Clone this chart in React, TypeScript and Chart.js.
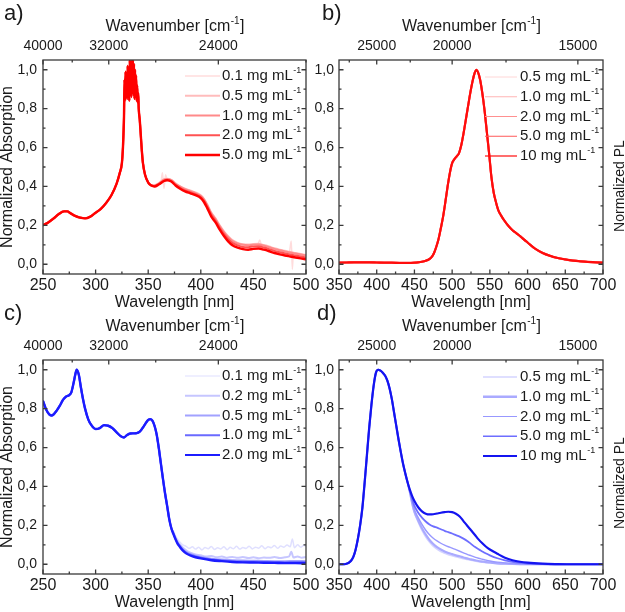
import React, { useEffect, useRef } from 'react';
import { Chart, registerables } from 'chart.js';

Chart.register(...registerables);

const FONT = "'Liberation Sans', Arial, Helvetica, sans-serif";
Chart.defaults.font.family = FONT;
Chart.defaults.color = '#1a1a1a';

// ---------------- Panel a: absorption (red) ----------------
const absA_xHead = [250, 255, 260, 265, 270, 273, 276, 280, 285, 290, 295, 300, 305, 310, 315, 320, 323, 325, 326, 326.5, 327, 327.5, 328, 328.5, 329, 329.5, 330, 330.5, 331, 331.5, 332, 332.5, 333, 333.5, 334, 334.5, 335, 335.5, 336, 336.5, 337, 337.5, 338, 338.5, 339, 339.5, 340, 340.5, 341, 342, 343, 344, 345, 347, 350, 353];
const absA_head = [0.200, 0.215, 0.235, 0.258, 0.272, 0.272, 0.263, 0.250, 0.240, 0.236, 0.245, 0.265, 0.285, 0.315, 0.355, 0.415, 0.47, 0.52, 0.60, 0.67, 0.76, 0.95, 0.84, 0.99, 0.87, 0.97, 0.85, 1.02, 0.88, 0.98, 0.84, 1.05, 0.90, 1.04, 0.86, 1.05, 0.93, 1.05, 0.87, 1.03, 0.85, 1.00, 0.88, 0.97, 0.84, 0.92, 0.83, 0.88, 0.80, 0.74, 0.66, 0.58, 0.52, 0.46, 0.42, 0.405];
const absA_xTail = [356, 360, 365, 368, 372, 376, 380, 385, 390, 395, 400, 403, 406, 410, 414, 418, 422, 426, 430, 435, 440, 445, 450, 455, 460, 465, 470, 475, 480, 485, 490, 495, 500];
const absA_tail50 = [0.400, 0.410, 0.428, 0.432, 0.425, 0.405, 0.390, 0.375, 0.365, 0.355, 0.340, 0.320, 0.290, 0.245, 0.215, 0.178, 0.145, 0.118, 0.098, 0.085, 0.078, 0.075, 0.079, 0.081, 0.075, 0.067, 0.058, 0.051, 0.045, 0.040, 0.035, 0.030, 0.025];
const absA_tail20 = [0.401, 0.412, 0.430, 0.434, 0.428, 0.409, 0.394, 0.380, 0.370, 0.360, 0.346, 0.327, 0.298, 0.254, 0.224, 0.188, 0.156, 0.130, 0.110, 0.097, 0.089, 0.088, 0.091, 0.092, 0.086, 0.078, 0.069, 0.062, 0.056, 0.050, 0.045, 0.040, 0.035];
const absA_tail10 = [0.405, 0.415, 0.435, 0.438, 0.432, 0.414, 0.400, 0.386, 0.376, 0.366, 0.352, 0.334, 0.306, 0.262, 0.232, 0.196, 0.165, 0.140, 0.120, 0.107, 0.100, 0.098, 0.101, 0.102, 0.096, 0.088, 0.079, 0.072, 0.066, 0.060, 0.055, 0.050, 0.045];
const absA_tail05 = [0.406, 0.417, 0.437, 0.440, 0.434, 0.416, 0.402, 0.389, 0.379, 0.369, 0.355, 0.337, 0.309, 0.266, 0.236, 0.200, 0.169, 0.144, 0.124, 0.110, 0.103, 0.101, 0.104, 0.105, 0.099, 0.091, 0.082, 0.075, 0.069, 0.063, 0.058, 0.053, 0.048];
const absA_xTail01 = [356, 360, 362, 363.5, 365, 366.5, 368, 372, 376, 380, 385, 390, 395, 400, 403, 406, 410, 414, 418, 422, 426, 430, 435, 440, 445, 450, 454, 456, 458, 460, 465, 470, 475, 480, 484, 486, 487, 488, 490, 495, 500];
const absA_tail01 = [0.404, 0.414, 0.420, 0.470, 0.390, 0.460, 0.437, 0.432, 0.414, 0.400, 0.386, 0.376, 0.366, 0.352, 0.334, 0.306, 0.262, 0.232, 0.196, 0.165, 0.140, 0.120, 0.107, 0.100, 0.098, 0.101, 0.100, 0.125, 0.095, 0.096, 0.088, 0.079, 0.072, 0.066, 0.060, 0.120, -0.025, 0.060, 0.055, 0.050, 0.045];

// ---------------- Panel b: PL (red) ----------------
const plB_x = [350, 360, 370, 380, 390, 400, 410, 420, 430, 440, 450, 455, 460, 465, 470, 473, 476, 479, 482, 485, 488, 491, 494, 497, 500, 503, 506, 509, 512, 515, 518, 521, 524, 527, 530, 532, 534, 537, 540, 543, 546, 549, 552, 555, 558, 561, 565, 570, 575, 580, 585, 590, 595, 600, 610, 620, 630, 640, 650, 660, 670, 680, 690, 700];
// all concentrations overlap in the normalized PL plot
const plB_y = [0.008, 0.009, 0.010, 0.010, 0.010, 0.009, 0.008, 0.008, 0.007, 0.007, 0.008, 0.010, 0.013, 0.018, 0.027, 0.038, 0.058, 0.090, 0.130, 0.185, 0.245, 0.320, 0.400, 0.470, 0.520, 0.540, 0.555, 0.570, 0.610, 0.670, 0.740, 0.810, 0.880, 0.940, 0.985, 1.000, 0.990, 0.950, 0.880, 0.790, 0.680, 0.570, 0.450, 0.370, 0.320, 0.280, 0.250, 0.220, 0.195, 0.175, 0.160, 0.145, 0.128, 0.112, 0.080, 0.058, 0.043, 0.032, 0.025, 0.019, 0.015, 0.012, 0.010, 0.008];

// ---------------- Panel c: absorption (blue) ----------------
const absC_xHead = [250, 253, 256, 258, 260, 263, 266, 269, 272, 275, 277, 279, 280.5, 282, 284, 286, 288, 290, 293, 296, 300, 304, 308, 312, 316, 320, 324, 327, 330, 333, 336, 339, 342, 345, 348, 350, 352, 354, 356, 358, 360, 362, 364, 366, 368, 370, 372];
const absC_head = [0.840, 0.795, 0.770, 0.765, 0.770, 0.790, 0.815, 0.845, 0.862, 0.870, 0.885, 0.930, 0.970, 1.000, 0.975, 0.910, 0.850, 0.800, 0.745, 0.715, 0.695, 0.700, 0.715, 0.712, 0.700, 0.678, 0.658, 0.652, 0.665, 0.672, 0.673, 0.674, 0.682, 0.703, 0.728, 0.742, 0.746, 0.738, 0.712, 0.668, 0.600, 0.520, 0.440, 0.365, 0.300, 0.232, 0.185];
const absC_xTail = [374, 376, 378, 380, 383, 386, 390, 395, 400, 410, 420, 430, 440, 450, 460, 470, 480, 490, 500];
const absC_tail20 = [0.155, 0.128, 0.105, 0.090, 0.070, 0.056, 0.045, 0.036, 0.030, 0.021, 0.016, 0.012, 0.010, 0.009, 0.008, 0.007, 0.006, 0.006, 0.005];
const absC_tail10 = [0.157, 0.130, 0.108, 0.093, 0.074, 0.060, 0.049, 0.040, 0.034, 0.025, 0.020, 0.016, 0.014, 0.013, 0.012, 0.012, 0.011, 0.012, 0.011];
const absC_tail05 = [0.160, 0.134, 0.112, 0.097, 0.078, 0.064, 0.053, 0.044, 0.038, 0.029, 0.024, 0.021, 0.019, 0.018, 0.017, 0.016, 0.016, 0.017, 0.016];
const absC_xTail02 = [374, 376, 378, 380, 383, 386, 390, 395, 400, 405, 410, 415, 420, 425, 430, 435, 440, 445, 450, 455, 460, 465, 470, 475, 480, 484, 486, 488, 492, 496, 500];
const absC_tail02 = [0.162, 0.137, 0.117, 0.102, 0.085, 0.072, 0.060, 0.050, 0.046, 0.040, 0.043, 0.036, 0.040, 0.034, 0.038, 0.033, 0.037, 0.032, 0.036, 0.031, 0.035, 0.033, 0.037, 0.032, 0.036, 0.040, 0.065, 0.035, 0.040, 0.034, 0.038];
const absC_xTail01 = [374, 376, 378, 380, 383, 386, 389, 392, 395, 398, 401, 404, 407, 410, 413, 416, 419, 422, 425, 428, 431, 434, 437, 440, 443, 446, 449, 452, 455, 458, 461, 464, 467, 470, 473, 476, 479, 482, 485, 487, 489, 492, 495, 498, 500];
const absC_tail01 = [0.170, 0.145, 0.128, 0.115, 0.100, 0.092, 0.082, 0.090, 0.078, 0.088, 0.074, 0.086, 0.080, 0.091, 0.076, 0.085, 0.079, 0.090, 0.075, 0.087, 0.080, 0.092, 0.078, 0.086, 0.081, 0.093, 0.079, 0.088, 0.083, 0.095, 0.080, 0.090, 0.085, 0.097, 0.082, 0.094, 0.088, 0.099, 0.090, 0.130, 0.085, 0.100, 0.088, 0.098, 0.092];

// ---------------- Panel d: PL (blue) ----------------
const plD_xRise = [350, 355, 360, 363, 366, 369, 372, 375, 378, 381, 384, 387, 390, 393, 396, 399, 402, 405, 408, 411, 414, 417, 420, 423, 426, 429, 432, 435, 438, 441];
const plD_rise = [0.000, 0.000, 0.003, 0.008, 0.018, 0.038, 0.075, 0.130, 0.200, 0.290, 0.420, 0.560, 0.700, 0.820, 0.920, 0.985, 1.000, 0.995, 0.985, 0.970, 0.945, 0.905, 0.850, 0.780, 0.710, 0.640, 0.575, 0.515, 0.465, 0.420];
const plD_xTail = [444, 447, 450, 455, 460, 465, 470, 475, 480, 485, 490, 495, 500, 505, 510, 515, 520, 525, 530, 535, 540, 545, 550, 560, 570, 580, 590, 600, 620, 640, 660, 680, 700];
const plD_tail10 = [0.382, 0.350, 0.325, 0.293, 0.272, 0.260, 0.256, 0.257, 0.261, 0.265, 0.268, 0.270, 0.268, 0.260, 0.246, 0.222, 0.198, 0.175, 0.152, 0.128, 0.108, 0.090, 0.076, 0.054, 0.034, 0.021, 0.013, 0.008, 0.003, 0.001, 0.000, 0.000, 0.000];
const plD_tail50 = [0.375, 0.335, 0.300, 0.265, 0.240, 0.220, 0.205, 0.195, 0.188, 0.180, 0.172, 0.165, 0.158, 0.150, 0.142, 0.132, 0.120, 0.105, 0.090, 0.077, 0.066, 0.055, 0.046, 0.031, 0.020, 0.012, 0.007, 0.004, 0.001, 0.000, 0.000, 0.000, 0.000];
const plD_tail20 = [0.372, 0.320, 0.280, 0.240, 0.205, 0.175, 0.152, 0.134, 0.120, 0.108, 0.098, 0.090, 0.083, 0.075, 0.067, 0.059, 0.051, 0.044, 0.037, 0.031, 0.026, 0.021, 0.017, 0.011, 0.007, 0.004, 0.002, 0.001, 0.000, 0.000, 0.000, 0.000, 0.000];
const plD_tail1_0 = [0.370, 0.315, 0.270, 0.225, 0.185, 0.152, 0.125, 0.104, 0.088, 0.076, 0.066, 0.058, 0.052, 0.046, 0.041, 0.035, 0.030, 0.025, 0.021, 0.017, 0.014, 0.011, 0.009, 0.005, 0.003, 0.002, 0.001, 0.000, 0.000, 0.000, 0.000, 0.000, 0.000];
const plD_tail05 = [0.368, 0.310, 0.265, 0.218, 0.176, 0.142, 0.115, 0.094, 0.078, 0.066, 0.057, 0.050, 0.044, 0.039, 0.034, 0.029, 0.025, 0.021, 0.017, 0.014, 0.011, 0.009, 0.007, 0.004, 0.002, 0.001, 0.000, 0.000, 0.000, 0.000, 0.000, 0.000, 0.000];

// ---------------- axis tick labels ----------------
const absTicks = [250, 300, 350, 400, 450, 500];
const plTicks = [350, 400, 450, 500, 550, 600, 650, 700];
const absWaveMajor = [40000, 32000, 24000];
const absWaveMinor = [36000, 28000, 20000];
const plWaveMajor = [25000, 20000, 15000];
const plWaveMinor = [27500, 22500, 17500];
const yTicks = [0, 0.2, 0.4, 0.6, 0.8, 1.0];

type Series = { label: string; xs: number[]; ys: number[]; color: string; width: number; legendWidth: number };
type Spec = {
  tag: string; tagX: number;
  left: number; top: number; w: number; h: number;
  xMin: number; xMax: number; xTicks: number[];
  waveMajor: number[]; waveMinor: number[];
  yTitle: string | null; rightTitle: string | null; rightTitleX: number; rightTitleY: number;
  leftWidth: number; rightPad: number; yLabelPad: number;
  legX1: number; legX2: number; legTextX: number; legY0: number;
  series: Series[];
};

const cat = (a: number[], b: number[]) => a.concat(b);

const PANELS: Spec[] = [
  {
    tag: 'a)', tagX: 4, left: 0, top: 0, w: 325, h: 312,
    xMin: 250, xMax: 500, xTicks: absTicks, waveMajor: absWaveMajor, waveMinor: absWaveMinor,
    yTitle: 'Normalized Absorption', rightTitle: null, rightTitleX: 0, rightTitleY: 0,
    leftWidth: 43, rightPad: 19, yLabelPad: 6,
    legX1: 185, legX2: 220, legTextX: 222, legY0: 76,
    series: [
      { label: '0.1', xs: cat(absA_xHead, absA_xTail01), ys: cat(absA_head, absA_tail01), color: '#ffdcdc', width: 1.5, legendWidth: 1.5 },
      { label: '0.5', xs: cat(absA_xHead, absA_xTail), ys: cat(absA_head, absA_tail05), color: '#ffbcbc', width: 2, legendWidth: 2 },
      { label: '1.0', xs: cat(absA_xHead, absA_xTail), ys: cat(absA_head, absA_tail10), color: '#ff8a8a', width: 2, legendWidth: 2 },
      { label: '2.0', xs: cat(absA_xHead, absA_xTail), ys: cat(absA_head, absA_tail20), color: '#ff5252', width: 2, legendWidth: 2 },
      { label: '5.0', xs: cat(absA_xHead, absA_xTail), ys: cat(absA_head, absA_tail50), color: '#ff0000', width: 2.4, legendWidth: 2.5 },
    ],
  },
  {
    tag: 'b)', tagX: 17, left: 305, top: 0, w: 320, h: 312,
    xMin: 350, xMax: 700, xTicks: plTicks, waveMajor: plWaveMajor, waveMinor: plWaveMinor,
    yTitle: null, rightTitle: 'Normalized PL', rightTitleX: 315, rightTitleY: 186,
    leftWidth: 34, rightPad: 22, yLabelPad: 5,
    legX1: 180, legX2: 212, legTextX: 215, legY0: 77,
    series: [
      { label: '0.5', xs: plB_x, ys: plB_y, color: '#ffd6d6', width: 2, legendWidth: 1 },
      { label: '1.0', xs: plB_x, ys: plB_y, color: '#ffb4b4', width: 2, legendWidth: 1 },
      { label: '2.0', xs: plB_x, ys: plB_y, color: '#ff9090', width: 2, legendWidth: 1 },
      { label: '5.0', xs: plB_x, ys: plB_y, color: '#ff5a5a', width: 2, legendWidth: 1 },
      { label: '10', xs: plB_x, ys: plB_y, color: '#ff0c0c', width: 2.2, legendWidth: 1.2 },
    ],
  },
  {
    tag: 'c)', tagX: 4, left: 0, top: 300, w: 325, h: 312,
    xMin: 250, xMax: 500, xTicks: absTicks, waveMajor: absWaveMajor, waveMinor: absWaveMinor,
    yTitle: 'Normalized Absorption', rightTitle: null, rightTitleX: 0, rightTitleY: 0,
    leftWidth: 43, rightPad: 19, yLabelPad: 6,
    legX1: 185, legX2: 220, legTextX: 222, legY0: 76,
    series: [
      { label: '0.1', xs: cat(absC_xHead, absC_xTail01), ys: cat(absC_head, absC_tail01), color: '#e0e0ff', width: 1.5, legendWidth: 1.2 },
      { label: '0.2', xs: cat(absC_xHead, absC_xTail02), ys: cat(absC_head, absC_tail02), color: '#c6c6ff', width: 2, legendWidth: 2 },
      { label: '0.5', xs: cat(absC_xHead, absC_xTail), ys: cat(absC_head, absC_tail05), color: '#a2a2ff', width: 2, legendWidth: 2 },
      { label: '1.0', xs: cat(absC_xHead, absC_xTail), ys: cat(absC_head, absC_tail10), color: '#6a6aff', width: 2, legendWidth: 2 },
      { label: '2.0', xs: cat(absC_xHead, absC_xTail), ys: cat(absC_head, absC_tail20), color: '#1c1cff', width: 2.4, legendWidth: 2.2 },
    ],
  },
  {
    tag: 'd)', tagX: 12, left: 305, top: 300, w: 320, h: 312,
    xMin: 350, xMax: 700, xTicks: plTicks, waveMajor: plWaveMajor, waveMinor: plWaveMinor,
    yTitle: null, rightTitle: 'Normalized PL', rightTitleX: 315, rightTitleY: 183,
    leftWidth: 34, rightPad: 22, yLabelPad: 5,
    legX1: 178, legX2: 212, legTextX: 215, legY0: 77,
    series: [
      { label: '0.5', xs: cat(plD_xRise, plD_xTail), ys: cat(plD_rise, plD_tail05), color: '#d4d4ff', width: 1.8, legendWidth: 1.5 },
      { label: '1.0', xs: cat(plD_xRise, plD_xTail), ys: cat(plD_rise, plD_tail1_0), color: '#aaaaff', width: 2.2, legendWidth: 2.5 },
      { label: '2.0', xs: cat(plD_xRise, plD_xTail), ys: cat(plD_rise, plD_tail20), color: '#9898ff', width: 1.4, legendWidth: 1 },
      { label: '5.0', xs: cat(plD_xRise, plD_xTail), ys: cat(plD_rise, plD_tail50), color: '#6e6eff', width: 1.8, legendWidth: 1.5 },
      { label: '10', xs: cat(plD_xRise, plD_xTail), ys: cat(plD_rise, plD_tail10), color: '#1414f0', width: 2.2, legendWidth: 2 },
    ],
  },
];

function drawSupText(ctx: CanvasRenderingContext2D, x: number, y: number, main: string, sup: string, tail: string, size: number, supSize: number, center: boolean) {
  ctx.font = `${size}px ${FONT}`;
  const w1 = ctx.measureText(main).width;
  const w3 = ctx.measureText(tail).width;
  ctx.font = `${supSize}px ${FONT}`;
  const w2 = ctx.measureText(sup).width;
  const sx = center ? x - (w1 + w2 + w3) / 2 : x;
  ctx.textAlign = 'left';
  ctx.textBaseline = 'middle';
  ctx.font = `${size}px ${FONT}`;
  ctx.fillText(main, sx, y);
  ctx.font = `${supSize}px ${FONT}`;
  ctx.fillText(sup, sx + w1 + 0.5, y - size * 0.36);
  ctx.font = `${size}px ${FONT}`;
  if (tail) ctx.fillText(tail, sx + w1 + w2 + 1, y);
}

function decor(spec: Spec) {
  return {
    id: 'decor' + spec.tag,
    afterDraw(chart: any) {
      const ctx: CanvasRenderingContext2D = chart.ctx;
      const { left, right, top, bottom } = chart.chartArea;
      const xs = chart.scales.x;
      const ys = chart.scales.y;
      ctx.save();
      ctx.strokeStyle = '#3a3a3a';
      ctx.lineWidth = 1.3;
      ctx.strokeRect(left, top, right - left, bottom - top);
      ctx.beginPath();
      const step = spec.xTicks[1] - spec.xTicks[0];
      for (let v = spec.xMin; v <= spec.xMax + 1e-6; v += step / 2) {
        const k = (v - spec.xMin) / step;
        const major = Math.abs(k - Math.round(k)) < 1e-6;
        const px = xs.getPixelForValue(v);
        ctx.moveTo(px, bottom);
        ctx.lineTo(px, bottom - (major ? 4.5 : 2.5));
      }
      const waves = spec.waveMajor.map((w) => [w, 4.5]).concat(spec.waveMinor.map((w) => [w, 2.5]));
      for (const [w, len] of waves) {
        const nm = 1e7 / w;
        if (nm < spec.xMin - 1e-6 || nm > spec.xMax + 1e-6) continue;
        const px = xs.getPixelForValue(nm);
        ctx.moveTo(px, top);
        ctx.lineTo(px, top + len);
      }
      for (let k = 0; k <= 10; k++) {
        const py = ys.getPixelForValue(k / 10);
        const len = k % 2 === 0 ? 4.5 : 2.5;
        ctx.moveTo(left, py);
        ctx.lineTo(left + len, py);
        ctx.moveTo(right, py);
        ctx.lineTo(right - len, py);
      }
      ctx.stroke();

      // legend
      spec.series.forEach((s, i) => {
        const y = spec.legY0 + i * 19.75;
        ctx.strokeStyle = s.color;
        ctx.lineWidth = s.legendWidth;
        ctx.beginPath();
        ctx.moveTo(spec.legX1, y);
        ctx.lineTo(spec.legX2, y);
        ctx.stroke();
        ctx.fillStyle = '#1a1a1a';
        drawSupText(ctx, spec.legTextX, y, `${s.label} mg mL`, '-1', '', 15, 9, false);
      });

      // top title
      ctx.fillStyle = '#1a1a1a';
      drawSupText(ctx, (left + right) / 2, 27, 'Wavenumber [cm', '-1', ']', 16, 10, true);

      // panel tag
      ctx.font = `22px ${FONT}`;
      ctx.textAlign = 'left';
      ctx.textBaseline = 'alphabetic';
      ctx.fillText(spec.tag, spec.tagX, 20);

      if (spec.rightTitle) {
        ctx.save();
        ctx.translate(spec.rightTitleX, spec.rightTitleY);
        ctx.rotate(-Math.PI / 2);
        ctx.font = `14px ${FONT}`;
        ctx.textAlign = 'center';
        ctx.textBaseline = 'middle';
        ctx.fillText(spec.rightTitle, 0, 0);
        ctx.restore();
      }
      ctx.restore();
    },
  };
}

function buildConfig(spec: Spec): any {
  const n = spec.series.length;
  const datasets = spec.series.map((s, i) => ({
    label: s.label,
    data: s.xs.map((x, j) => ({ x, y: s.ys[j] })),
    borderColor: s.color,
    backgroundColor: s.color,
    borderWidth: s.width,
    pointRadius: 0,
    fill: false,
    cubicInterpolationMode: 'monotone',
    // the last (most concentrated) series is drawn on top
    order: n - i,
    xAxisID: 'x',
    yAxisID: 'y',
  }));
  const noGrid = { display: false, drawTicks: false };
  return {
    type: 'line',
    data: { datasets },
    options: {
      animation: false,
      responsive: false,
      maintainAspectRatio: false,
      events: [],
      layout: { autoPadding: false, padding: { left: 0, right: spec.rightPad, top: 0, bottom: 0 } },
      plugins: { legend: { display: false }, tooltip: { enabled: false }, title: { display: false } },
      scales: {
        x: {
          type: 'linear', position: 'bottom', min: spec.xMin, max: spec.xMax,
          afterBuildTicks: (s: any) => { s.ticks = spec.xTicks.map((v) => ({ value: v })); },
          ticks: { font: { size: 16 }, color: '#1a1a1a', padding: 1.5, maxRotation: 0, autoSkip: false, callback: (v: number) => String(v) },
          grid: noGrid, border: { display: false },
          title: { display: true, text: 'Wavelength [nm]', font: { size: 16, lineHeight: 1.2 }, color: '#1a1a1a', padding: 0 },
          afterFit: (s: any) => { s.height = spec.h - 274; },
        },
        x2: {
          type: 'linear', position: 'top', min: spec.xMin, max: spec.xMax,
          afterBuildTicks: (s: any) => { s.ticks = spec.waveMajor.map((w) => ({ value: 1e7 / w })); },
          ticks: { font: { size: 14 }, color: '#1a1a1a', padding: 5, maxRotation: 0, autoSkip: false, callback: (v: number) => String(Math.round(1e7 / v)) },
          grid: noGrid, border: { display: false },
          afterFit: (s: any) => { s.height = 60; },
        },
        y: {
          type: 'linear', position: 'left', min: -0.05, max: 1.05,
          afterBuildTicks: (s: any) => { s.ticks = yTicks.map((v) => ({ value: v })); },
          ticks: { font: { size: 14 }, color: '#1a1a1a', padding: spec.yLabelPad, autoSkip: false, callback: (v: number) => v.toFixed(1).replace('.', ',') },
          grid: noGrid, border: { display: false },
          title: { display: !!spec.yTitle, text: spec.yTitle || '', font: { size: 16, lineHeight: 1 }, color: '#1a1a1a', padding: 0 },
          afterFit: (s: any) => { s.width = spec.leftWidth; },
        },
      },
    },
    plugins: [decor(spec)],
  };
}

function Panel({ spec }: { spec: Spec }) {
  const ref = useRef<HTMLCanvasElement>(null);
  useEffect(() => {
    const chart = new Chart(ref.current as HTMLCanvasElement, buildConfig(spec));
    return () => chart.destroy();
  }, [spec]);
  return (
    <div style={{ position: 'absolute', left: spec.left, top: spec.top, width: spec.w, height: spec.h }}>
      <canvas ref={ref} width={spec.w} height={spec.h} style={{ width: spec.w, height: spec.h, display: 'block' }} />
    </div>
  );
}

export default function App() {
  return (
    <div style={{ position: 'absolute', left: 0, top: 0, width: 625, height: 612, background: '#ffffff' }}>
      {PANELS.map((p) => (
        <Panel key={p.tag} spec={p} />
      ))}
    </div>
  );
}
